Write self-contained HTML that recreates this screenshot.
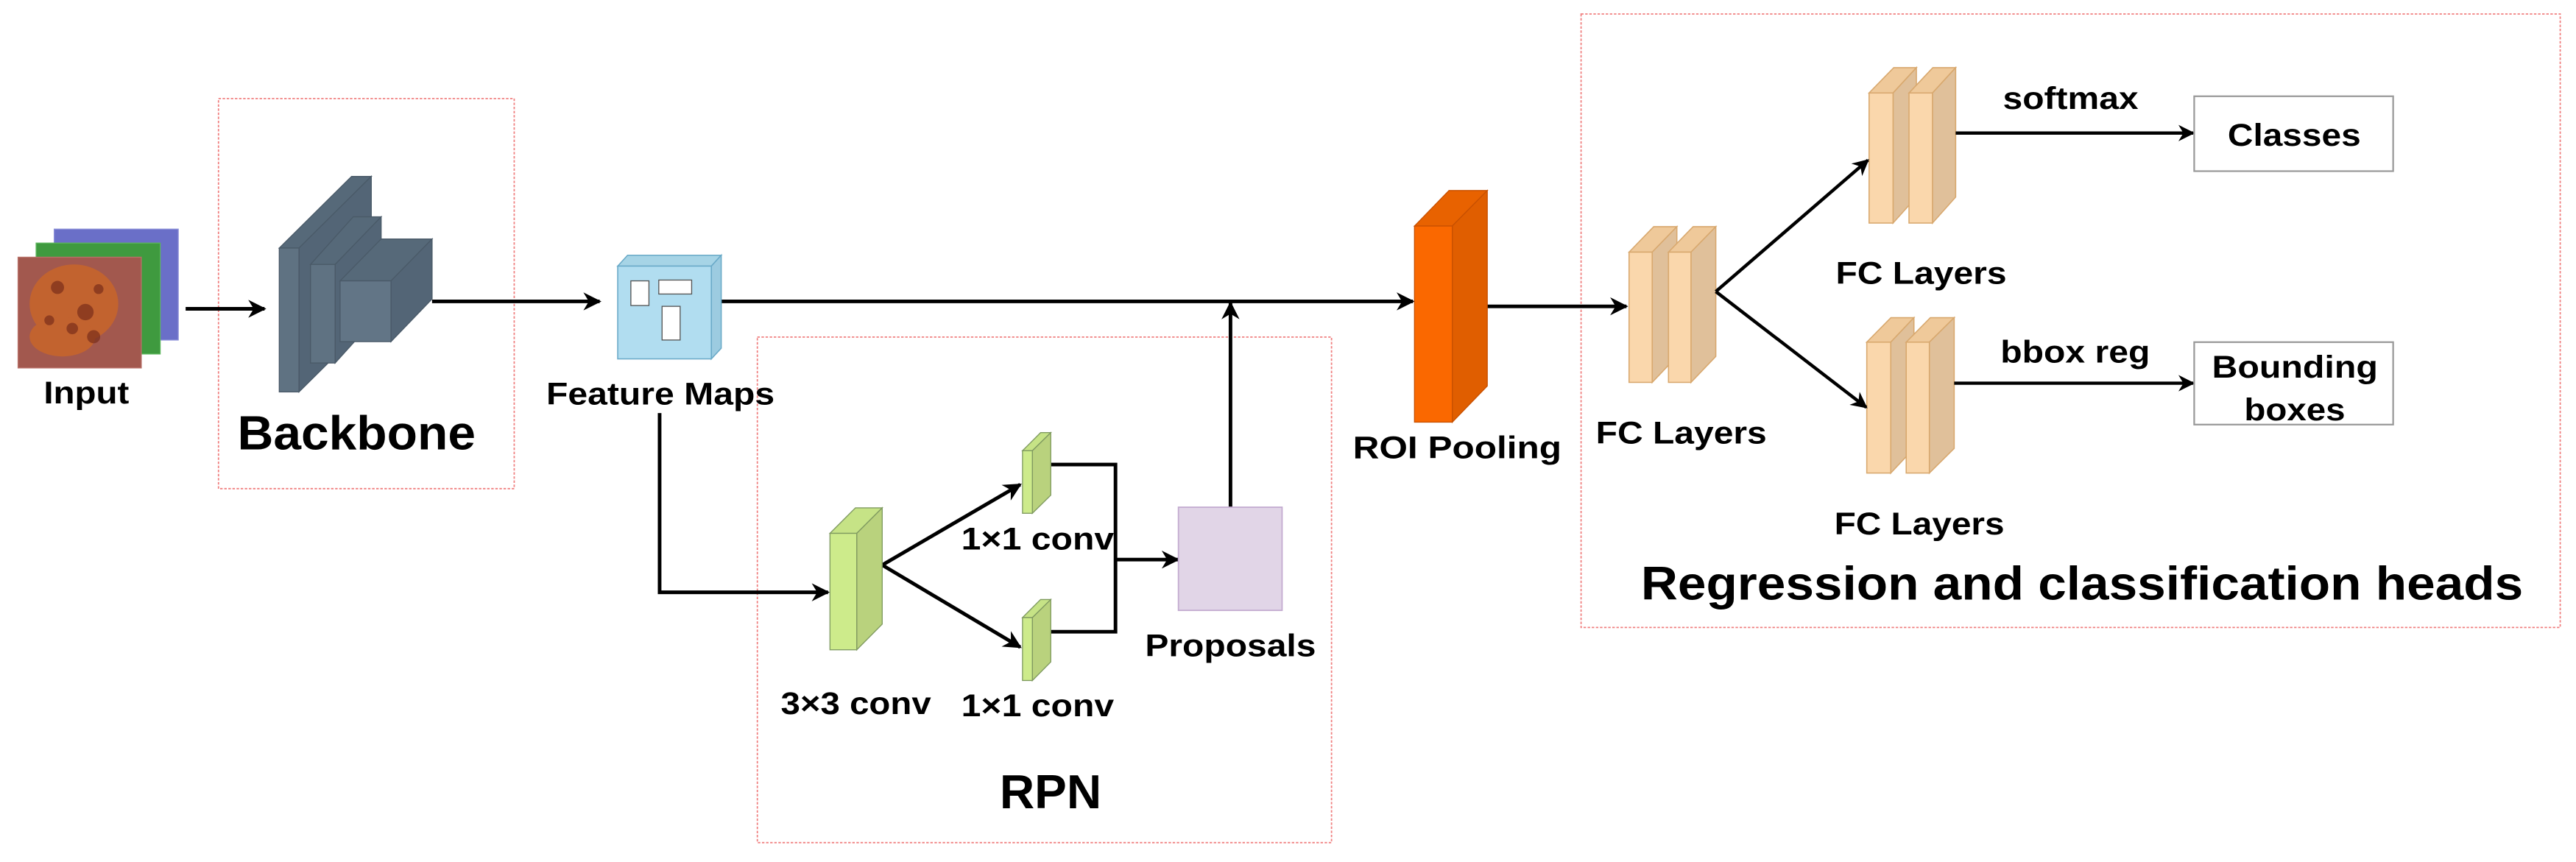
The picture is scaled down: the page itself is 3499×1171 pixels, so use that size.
<!DOCTYPE html>
<html><head><meta charset="utf-8"><style>
html,body{margin:0;padding:0;background:#fff;}
svg{display:block;}
text{font-family:"Liberation Sans",Arial,sans-serif;font-weight:bold;fill:#000;}
</style></head><body>
<svg width="3499" height="1171" viewBox="0 0 1568 524.8" preserveAspectRatio="none" xmlns="http://www.w3.org/2000/svg">
<defs>
<marker id="ah" viewBox="0 0 10 10" refX="9" refY="5" markerWidth="5" markerHeight="5" orient="auto" markerUnits="strokeWidth">
<path d="M0,0 L10,5 L0,10 L3,5 z" fill="#000"/>
</marker>
</defs>
<rect width="1568" height="524.8" fill="#fff"/>

<!-- dashed group boxes -->
<g fill="none" stroke="#f08080" stroke-width="0.8" stroke-dasharray="1.5,1">
<rect x="133" y="60" width="180" height="237.5"/>
<rect x="461" y="205.2" width="349.5" height="307.8"/>
<rect x="962.4" y="8.5" width="596" height="373.5"/>
</g>

<!-- Input images -->
<rect x="33" y="139.5" width="75.5" height="67.5" fill="#6a6fc8" stroke="#8a8fd8" stroke-width="0.6"/>
<rect x="22" y="148" width="75.5" height="67.5" fill="#3f9a3f" stroke="#5ab45a" stroke-width="0.6"/>
<rect x="11" y="156.6" width="75" height="67.4" fill="#a2584e" stroke="#b87068" stroke-width="0.6"/>
<g fill="#c8652a" opacity="0.85">
<ellipse cx="45" cy="185" rx="27" ry="24"/>
<ellipse cx="38" cy="205" rx="20" ry="12"/>
</g>
<g fill="#7a2e1a" opacity="0.7">
<circle cx="35" cy="175" r="4"/><circle cx="52" cy="190" r="5"/><circle cx="44" cy="200" r="3.5"/><circle cx="60" cy="176" r="3"/><circle cx="30" cy="195" r="3"/><circle cx="57" cy="205" r="4"/>
</g>
<text x="52.6" y="245.5" font-size="19" text-anchor="middle" textLength="52" lengthAdjust="spacingAndGlyphs">Input</text>

<!-- Backbone -->
<g stroke="#4a5a68" stroke-width="0.6">
<polygon points="170,151 214,107.4 226,107.4 182,151" fill="#566979"/>
<polygon points="182,151 226,107.4 226,195 182,238.6" fill="#536576"/>
<rect x="170" y="151" width="12" height="87.6" fill="#5f7282"/>
<polygon points="189,161 215,132 232,132 204,161" fill="#566979"/>
<polygon points="204,161 232,132 232,190 204,221" fill="#536576"/>
<rect x="189" y="161" width="15" height="60" fill="#5f7282"/>
<polygon points="207,171 232,145.5 263,145.5 238,171" fill="#566979"/>
<polygon points="238,171 263,145.5 263,182 238,208" fill="#536576"/>
<rect x="207" y="171" width="31" height="37" fill="#627586"/>
</g>
<text x="217" y="273.7" font-size="29" text-anchor="middle" textLength="145" lengthAdjust="spacingAndGlyphs">Backbone</text>

<!-- arrows main -->
<g stroke="#000" stroke-width="2.2" fill="none">
<line x1="113" y1="188" x2="161" y2="188" marker-end="url(#ah)"/>
<line x1="263" y1="183.5" x2="365" y2="183.5" marker-end="url(#ah)"/>
<line x1="439" y1="183.5" x2="860" y2="183.5" marker-end="url(#ah)"/>
<line x1="905" y1="186.5" x2="990" y2="186.5" marker-end="url(#ah)"/>
</g>

<!-- Feature maps cube -->
<g stroke="#6aaac8" stroke-width="0.7">
<polygon points="376,162 382,155.4 439,155.4 433,162" fill="#a6d4e6"/>
<polygon points="433,162 439,155.4 439,212 433,218.5" fill="#9ccbe0"/>
<rect x="376" y="162" width="57" height="56.5" fill="#b1ddf0"/>
</g>
<g fill="#fff" stroke="#555" stroke-width="0.6">
<rect x="384" y="171" width="11" height="15"/>
<rect x="401" y="170.5" width="20" height="8.5"/>
<rect x="403" y="186.5" width="11" height="20.5"/>
</g>
<text x="402" y="246.3" font-size="19" text-anchor="middle" textLength="139" lengthAdjust="spacingAndGlyphs">Feature Maps</text>

<!-- RPN -->
<g stroke="#000" stroke-width="2.2" fill="none">
<polyline points="401.5,251.5 401.5,360.6 504,360.6" marker-end="url(#ah)"/>
<line x1="537" y1="344" x2="621" y2="295" marker-end="url(#ah)"/>
<line x1="537" y1="344" x2="621" y2="394" marker-end="url(#ah)"/>
<polyline points="639.6,282.8 679,282.8 679,384.6 639.6,384.6"/>
<line x1="679" y1="340.7" x2="717" y2="340.7" marker-end="url(#ah)"/>
<line x1="749" y1="308.8" x2="749" y2="184.5" marker-end="url(#ah)"/>
</g>
<g stroke="#7f9a60" stroke-width="0.6">
<polygon points="505.2,324.7 520.7,309.2 537,309.2 521.5,324.7" fill="#c6e386"/>
<polygon points="521.5,324.7 537,309.2 537,380 521.5,395.6" fill="#b9d27d"/>
<rect x="505.2" y="324.7" width="16.3" height="70.9" fill="#cdeb8b"/>
<polygon points="622.4,274.4 633.4,263.4 639.6,263.4 628.4,274.4" fill="#c6e386"/>
<polygon points="628.4,274.4 639.6,263.4 639.6,301.5 628.4,312.5" fill="#b9d27d"/>
<rect x="622.4" y="274.4" width="6" height="38.1" fill="#cdeb8b"/>
<polygon points="622.4,376 633.4,365 639.6,365 628.4,376" fill="#c6e386"/>
<polygon points="628.4,376 639.6,365 639.6,403 628.4,414.3" fill="#b9d27d"/>
<rect x="622.4" y="376" width="6" height="38.3" fill="#cdeb8b"/>
</g>
<rect x="717.3" y="308.8" width="63.1" height="62.8" fill="#e1d5e7" stroke="#c3abd0" stroke-width="0.8"/>
<text x="631.6" y="334.6" font-size="19" text-anchor="middle" textLength="93" lengthAdjust="spacingAndGlyphs">1×1 conv</text>
<text x="631.6" y="436" font-size="19" text-anchor="middle" textLength="93" lengthAdjust="spacingAndGlyphs">1×1 conv</text>
<text x="521" y="434.8" font-size="19" text-anchor="middle" textLength="91.5" lengthAdjust="spacingAndGlyphs">3×3 conv</text>
<text x="749" y="399.6" font-size="19" text-anchor="middle" textLength="104" lengthAdjust="spacingAndGlyphs">Proposals</text>
<text x="639.5" y="492" font-size="29" text-anchor="middle" textLength="62" lengthAdjust="spacingAndGlyphs">RPN</text>

<!-- ROI pooling -->
<g stroke="#c85000" stroke-width="0.6">
<polygon points="861,137.6 882,116 905.3,116 884,137.6" fill="#e86200"/>
<polygon points="884,137.6 905.3,116 905.3,235 884,257" fill="#e05e00"/>
<rect x="861" y="137.6" width="23" height="119.4" fill="#fa6800"/>
</g>
<text x="887" y="279" font-size="19" text-anchor="middle" textLength="127" lengthAdjust="spacingAndGlyphs">ROI Pooling</text>

<!-- FC layers -->
<g stroke="#d8a86e" stroke-width="0.7">
<!-- first -->
<polygon points="991.6,153.5 1006.6,138 1020.7,138 1005.7,153.5" fill="#efc99a"/>
<polygon points="1005.7,153.5 1020.7,138 1020.7,217 1005.7,232.8" fill="#e0c09a"/>
<rect x="991.6" y="153.5" width="14.1" height="79.3" fill="#fad7ac"/>
<polygon points="1015.6,153.5 1030.6,138 1044.4,138 1029.3,153.5" fill="#efc99a"/>
<polygon points="1029.3,153.5 1044.4,138 1044.4,217 1029.3,232.8" fill="#e0c09a"/>
<rect x="1015.6" y="153.5" width="13.7" height="79.3" fill="#fad7ac"/>
<!-- upper -->
<polygon points="1137.7,56.6 1152.7,41.2 1166.5,41.2 1152.3,56.6" fill="#efc99a"/>
<polygon points="1152.3,56.6 1166.5,41.2 1166.5,120 1152.3,135.8" fill="#e0c09a"/>
<rect x="1137.7" y="56.6" width="14.6" height="79.2" fill="#fad7ac"/>
<polygon points="1162,56.6 1176.5,41.2 1190.4,41.2 1176.3,56.6" fill="#efc99a"/>
<polygon points="1176.3,56.6 1190.4,41.2 1190.4,120 1176.3,135.8" fill="#e0c09a"/>
<rect x="1162" y="56.6" width="14.3" height="79.2" fill="#fad7ac"/>
<!-- lower -->
<polygon points="1136.3,208.3 1151,193.4 1165,193.4 1150.9,208.3" fill="#efc99a"/>
<polygon points="1150.9,208.3 1165,193.4 1165,273 1150.9,288" fill="#e0c09a"/>
<rect x="1136.3" y="208.3" width="14.6" height="79.7" fill="#fad7ac"/>
<polygon points="1160.3,208.3 1175,193.4 1189.5,193.4 1174.4,208.3" fill="#efc99a"/>
<polygon points="1174.4,208.3 1189.5,193.4 1189.5,273 1174.4,288" fill="#e0c09a"/>
<rect x="1160.3" y="208.3" width="14.1" height="79.7" fill="#fad7ac"/>
</g>
<g stroke="#000" stroke-width="2" fill="none">
<line x1="1044.4" y1="177.5" x2="1137" y2="97.5" marker-end="url(#ah)"/>
<line x1="1044.4" y1="177.5" x2="1136" y2="248" marker-end="url(#ah)"/>
<line x1="1190.4" y1="81" x2="1335" y2="81" marker-end="url(#ah)"/>
<line x1="1189.5" y1="233.3" x2="1335" y2="233.3" marker-end="url(#ah)"/>
</g>
<g fill="#fff" stroke="#999" stroke-width="1">
<rect x="1335.6" y="58.6" width="121.1" height="45.6"/>
<rect x="1335.6" y="208.3" width="121.1" height="50.2"/>
</g>
<text x="1260.4" y="66.4" font-size="19" text-anchor="middle" textLength="82.5" lengthAdjust="spacingAndGlyphs">softmax</text>
<text x="1263.2" y="220.7" font-size="19" text-anchor="middle" textLength="91" lengthAdjust="spacingAndGlyphs">bbox reg</text>
<text x="1396.5" y="88.7" font-size="19" text-anchor="middle" textLength="81" lengthAdjust="spacingAndGlyphs">Classes</text>
<text x="1396.9" y="230" font-size="19" text-anchor="middle" textLength="101" lengthAdjust="spacingAndGlyphs">Bounding</text>
<text x="1396.8" y="256" font-size="19" text-anchor="middle" textLength="61.5" lengthAdjust="spacingAndGlyphs">boxes</text>
<text x="1169.4" y="172.8" font-size="19" text-anchor="middle" textLength="104" lengthAdjust="spacingAndGlyphs">FC Layers</text>
<text x="1023.4" y="270" font-size="19" text-anchor="middle" textLength="104" lengthAdjust="spacingAndGlyphs">FC Layers</text>
<text x="1168.3" y="325.4" font-size="19" text-anchor="middle" textLength="103.5" lengthAdjust="spacingAndGlyphs">FC Layers</text>
<text x="1267.3" y="365" font-size="28.6" text-anchor="middle" textLength="537" lengthAdjust="spacingAndGlyphs">Regression and classification heads</text>
</svg>
</body></html>
